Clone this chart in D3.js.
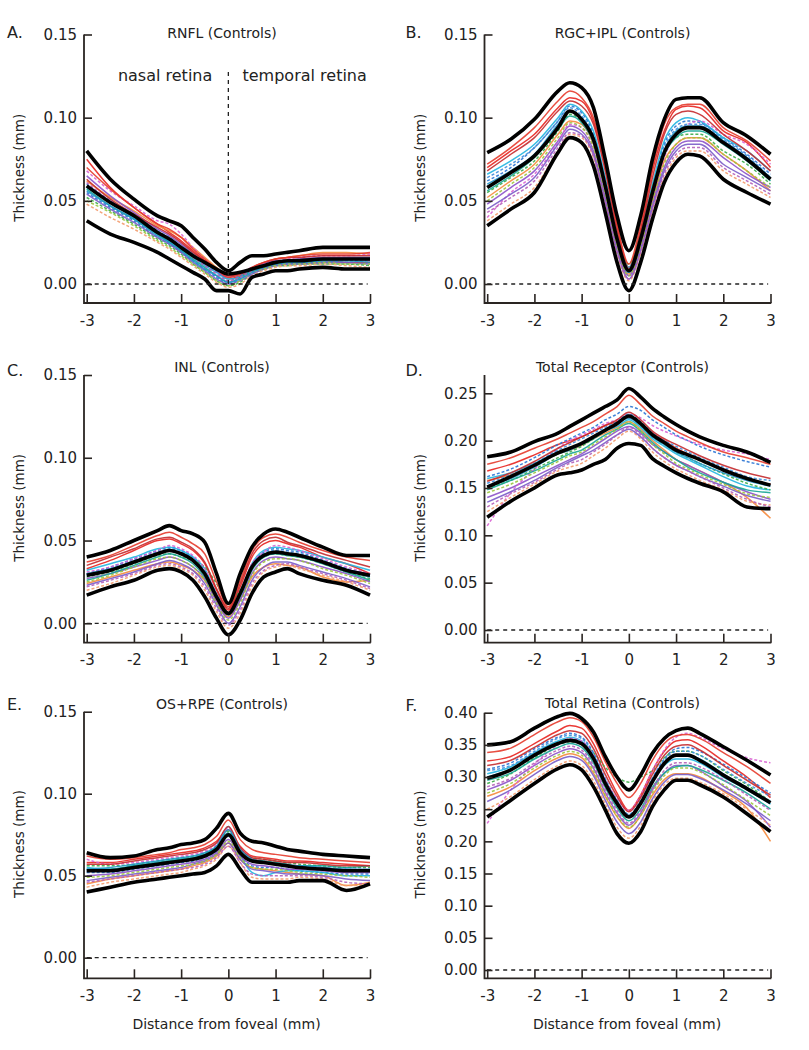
<!DOCTYPE html>
<html>
<head>
<meta charset="utf-8">
<script src="https://cdnjs.cloudflare.com/ajax/libs/d3/7.8.5/d3.min.js"></script>
<style>
  body { margin: 0; background: #fff; }
  svg text { font-family: "DejaVu Sans", Verdana, sans-serif; fill: #222; }
  .axis path { display: none; }
  .axis line { stroke: #2a2522; stroke-width: 1.6; }
  .axis text { font-size: 15px; }
</style>
</head>
<body>
<script>
// distance from fovea (mm), sampling points used for every curve
var xPos = [-3, -2.5, -2, -1.5, -1.25, -1, -0.75, -0.5, -0.25, 0, 0.25, 0.5, 0.75, 1, 1.25, 1.5, 2, 2.5, 3];
var xTicks = [-3, -2, -1, 0, 1, 2, 3];
var xTickLabels = ["-3", "-2", "-1", "0", "1", "2", "3"];

// all thickness values in micrometres (converted to mm when plotted)
// A. RNFL
var rnflMean = [59, 49, 41, 31, 27, 22, 17, 13, 9, 6, 7, 9, 11, 13, 14, 14, 15, 15, 15];
var rnflHigh = [80, 63, 51, 41, 38, 35, 28, 21, 13, 8, 13, 17, 17, 18, 19, 20, 22, 22, 22];
var rnflLow = [38, 30, 25, 19, 15, 11, 7, 3, -4, -4, -6, 4, 6, 8, 8, 9, 10, 9, 9];
var rnflSubj = [
  [75, 58, 46, 36, 31, 26, 20, 14, 8, 3, 5, 8, 10, 12, 13, 13, 14, 13, 13],
  [62, 52, 44, 35, 32, 28, 22, 16, 10, 5, 6, 9, 12, 15, 16, 17, 19, 19, 18],
  [55, 46, 38, 28, 24, 19, 14, 9, 4, 0, 3, 7, 10, 12, 12, 13, 13, 14, 14],
  [58, 49, 40, 30, 26, 21, 16, 11, 7, 3, 4, 8, 11, 13, 14, 15, 15, 16, 16],
  [52, 44, 36, 27, 23, 18, 12, 7, 2, -1, 1, 6, 9, 11, 11, 12, 12, 12, 11],
  [65, 53, 43, 33, 29, 24, 18, 13, 8, 4, 6, 9, 12, 14, 14, 15, 16, 16, 16],
  [68, 56, 47, 38, 36, 30, 22, 15, 9, 5, 7, 10, 12, 14, 15, 16, 17, 17, 18],
  [57, 47, 39, 30, 25, 20, 15, 10, 5, 1, 4, 8, 10, 12, 13, 13, 14, 15, 14],
  [60, 50, 42, 32, 28, 23, 18, 12, 7, 2, 5, 9, 11, 13, 14, 14, 15, 15, 15],
  [63, 51, 42, 34, 30, 25, 19, 14, 9, 5, 6, 10, 13, 15, 16, 16, 17, 17, 17],
  [48, 40, 33, 25, 21, 16, 11, 6, 1, -2, 0, 5, 8, 10, 11, 11, 12, 11, 10],
  [54, 45, 37, 28, 24, 19, 13, 8, 3, 0, 2, 6, 9, 11, 12, 12, 13, 13, 12],
  [70, 57, 46, 36, 33, 28, 21, 15, 9, 4, 6, 10, 13, 15, 16, 17, 18, 18, 19],
  [50, 43, 35, 26, 22, 17, 12, 7, 2, -1, 2, 7, 9, 11, 12, 12, 13, 12, 12],
  [56, 47, 39, 29, 25, 20, 14, 9, 5, 1, 3, 7, 10, 12, 13, 13, 14, 14, 13],
  [61, 50, 41, 31, 27, 22, 16, 11, 6, 2, 4, 8, 11, 13, 14, 14, 15, 15, 14]
];

// B. RGC+IPL
var rgcMean = [58, 67, 77, 94, 104, 99, 87, 59, 27, 8, 27, 55, 79, 90, 94, 94, 85, 75, 63];
var rgcHigh = [79, 87, 99, 116, 121, 118, 106, 75, 41, 20, 41, 75, 99, 111, 112, 112, 97, 89, 78];
var rgcLow = [35, 45, 55, 79, 88, 85, 71, 43, 13, -4, 13, 39, 61, 73, 78, 77, 63, 55, 48];
var rgcSubj = [
  [70, 80, 90, 106, 112, 110, 98, 70, 35, 10, 33, 68, 92, 105, 107, 106, 92, 85, 70],
  [52, 62, 72, 90, 98, 96, 84, 56, 24, 6, 24, 50, 74, 84, 88, 88, 78, 68, 56],
  [62, 70, 82, 98, 107, 103, 90, 62, 28, 8, 28, 58, 84, 95, 98, 97, 88, 78, 66],
  [66, 74, 84, 100, 108, 104, 92, 64, 30, 10, 30, 60, 86, 97, 100, 98, 88, 80, 68],
  [55, 64, 74, 92, 102, 98, 88, 60, 28, 12, 30, 58, 80, 88, 90, 90, 80, 72, 60],
  [48, 58, 68, 86, 95, 92, 80, 52, 22, 5, 22, 48, 70, 82, 86, 86, 76, 66, 58],
  [40, 55, 66, 85, 96, 94, 82, 55, 24, 7, 26, 52, 76, 90, 96, 98, 90, 84, 72],
  [56, 65, 76, 93, 101, 97, 85, 57, 26, 7, 26, 54, 78, 88, 92, 92, 84, 74, 62],
  [64, 72, 82, 98, 106, 101, 89, 61, 28, 9, 28, 57, 82, 93, 96, 96, 87, 77, 64],
  [68, 78, 88, 104, 110, 107, 96, 68, 32, 9, 31, 64, 90, 102, 104, 102, 90, 80, 68],
  [38, 48, 58, 80, 90, 88, 76, 48, 18, 2, 18, 44, 64, 76, 80, 80, 68, 60, 52],
  [45, 54, 64, 84, 93, 90, 78, 50, 20, 3, 20, 46, 68, 80, 84, 84, 72, 64, 56],
  [72, 82, 94, 110, 116, 112, 100, 72, 36, 12, 36, 70, 96, 106, 108, 108, 94, 86, 74],
  [50, 60, 70, 88, 97, 94, 82, 54, 23, 5, 23, 50, 72, 84, 88, 88, 78, 68, 58],
  [60, 68, 78, 96, 104, 100, 88, 60, 27, 7, 27, 56, 80, 92, 95, 95, 86, 76, 64],
  [43, 52, 62, 82, 91, 89, 77, 49, 19, 3, 19, 45, 66, 78, 82, 82, 70, 62, 54]
];

// C. INL
var inlMean = [29, 32, 37, 42, 44, 42, 38, 30, 16, 6, 18, 34, 41, 43, 42, 41, 37, 32, 29];
var inlHigh = [40, 44, 50, 56, 59, 56, 54, 49, 30, 12, 30, 46, 54, 57, 55, 52, 46, 41, 41];
var inlLow = [17, 22, 26, 32, 33, 31, 26, 16, 3, -7, 2, 18, 28, 31, 33, 30, 26, 23, 17];
var inlSubj = [
  [33, 38, 44, 50, 51, 48, 44, 36, 20, 8, 22, 40, 48, 50, 48, 46, 40, 36, 30],
  [24, 28, 32, 36, 37, 35, 32, 26, 14, 4, 14, 28, 34, 36, 35, 34, 28, 25, 26],
  [30, 34, 39, 44, 46, 44, 40, 32, 18, 6, 18, 35, 43, 45, 44, 43, 38, 33, 28],
  [32, 36, 40, 45, 46, 44, 40, 33, 17, 6, 18, 36, 44, 46, 45, 44, 40, 36, 32],
  [28, 31, 36, 41, 42, 40, 38, 34, 24, 12, 20, 33, 40, 42, 41, 40, 36, 31, 27],
  [27, 30, 34, 38, 40, 38, 34, 27, 13, 3, 14, 30, 38, 40, 39, 38, 34, 30, 25],
  [31, 34, 39, 44, 47, 45, 41, 33, 17, 6, 19, 36, 43, 47, 46, 44, 39, 34, 30],
  [26, 30, 35, 40, 42, 40, 36, 28, 15, 5, 16, 32, 40, 42, 41, 40, 36, 31, 26],
  [29, 33, 38, 43, 45, 43, 39, 31, 16, 5, 17, 34, 42, 44, 43, 42, 38, 33, 29],
  [35, 40, 45, 51, 52, 49, 45, 37, 21, 9, 24, 42, 50, 52, 49, 47, 42, 38, 34],
  [20, 24, 29, 34, 35, 33, 29, 20, 7, -3, 6, 22, 31, 34, 35, 33, 29, 25, 20],
  [23, 27, 31, 36, 38, 36, 32, 24, 11, 0, 10, 26, 34, 37, 37, 35, 31, 27, 22],
  [37, 41, 47, 53, 55, 52, 48, 42, 25, 10, 26, 44, 52, 54, 52, 49, 44, 40, 38],
  [25, 29, 34, 39, 40, 38, 34, 26, 12, 2, 12, 29, 37, 39, 39, 38, 33, 29, 24],
  [30, 33, 37, 42, 44, 42, 38, 31, 17, 6, 18, 34, 41, 43, 42, 41, 37, 32, 28],
  [22, 26, 30, 35, 36, 34, 30, 22, 9, -1, 8, 24, 32, 35, 36, 34, 30, 26, 21]
];

// D. Total Receptor
var recMean = [151, 162, 174, 187, 192, 197, 204, 211, 218, 226, 218, 206, 198, 190, 185, 180, 169, 160, 153];
var recHigh = [183, 188, 199, 208, 215, 222, 229, 236, 243, 255, 246, 234, 225, 217, 210, 204, 195, 188, 177];
var recLow = [119, 136, 150, 164, 166, 169, 175, 180, 192, 197, 195, 181, 173, 166, 160, 155, 146, 130, 128];
var recSubj = [
  [168, 175, 185, 196, 200, 204, 210, 216, 220, 224, 218, 208, 200, 192, 186, 180, 170, 160, 154],
  [158, 164, 175, 186, 190, 195, 202, 208, 214, 220, 212, 200, 190, 180, 174, 168, 156, 140, 118],
  [162, 170, 182, 196, 202, 208, 214, 222, 228, 236, 232, 222, 214, 206, 200, 194, 185, 178, 172],
  [160, 166, 176, 188, 192, 196, 202, 210, 215, 222, 214, 202, 194, 186, 180, 174, 162, 152, 148],
  [150, 158, 170, 182, 188, 194, 202, 210, 218, 226, 216, 204, 196, 188, 182, 176, 165, 155, 148],
  [140, 150, 162, 174, 180, 186, 194, 202, 210, 215, 208, 196, 188, 180, 174, 168, 156, 146, 138],
  [110, 145, 170, 192, 200, 206, 212, 218, 222, 228, 224, 216, 210, 205, 200, 196, 190, 186, 180],
  [148, 158, 168, 180, 186, 190, 198, 206, 212, 218, 210, 198, 188, 180, 172, 166, 156, 148, 145],
  [155, 164, 176, 190, 196, 202, 208, 214, 220, 228, 220, 208, 200, 194, 188, 182, 172, 162, 158],
  [157, 166, 178, 192, 198, 204, 210, 216, 222, 230, 222, 210, 202, 196, 190, 184, 174, 166, 160],
  [125, 140, 154, 168, 172, 176, 184, 192, 202, 210, 202, 188, 178, 170, 164, 158, 148, 136, 132],
  [135, 146, 158, 172, 178, 184, 190, 198, 206, 212, 204, 192, 182, 174, 168, 162, 152, 142, 136],
  [175, 182, 192, 202, 208, 214, 220, 228, 236, 248, 238, 226, 218, 210, 204, 198, 188, 182, 175],
  [145, 154, 166, 178, 184, 188, 196, 204, 212, 220, 210, 196, 186, 176, 170, 164, 154, 144, 140],
  [152, 160, 172, 186, 190, 196, 204, 212, 218, 224, 216, 204, 196, 188, 182, 176, 166, 158, 152],
  [130, 144, 156, 170, 176, 180, 188, 196, 206, 214, 206, 192, 182, 174, 168, 162, 150, 138, 130]
];

// E. OS+RPE
var osMean = [53, 53, 55, 57, 58, 59, 60, 62, 66, 75, 64, 59, 58, 57, 56, 55, 54, 53, 53];
var osHigh = [64, 61, 62, 66, 67, 69, 70, 72, 79, 88, 76, 71, 70, 68, 66, 65, 63, 62, 61];
var osLow = [40, 43, 46, 48, 49, 50, 51, 52, 56, 63, 54, 46, 46, 46, 46, 47, 47, 41, 45];
var osSubj = [
  [58, 58, 60, 62, 63, 64, 65, 67, 71, 78, 68, 62, 61, 60, 59, 59, 58, 57, 56],
  [45, 48, 50, 52, 53, 54, 56, 58, 62, 70, 60, 55, 54, 53, 52, 51, 50, 44, 46],
  [52, 52, 54, 56, 57, 58, 59, 61, 65, 74, 62, 56, 55, 55, 54, 53, 52, 51, 51],
  [55, 54, 56, 58, 59, 60, 61, 63, 68, 80, 63, 52, 50, 52, 53, 53, 52, 50, 50],
  [56, 56, 57, 59, 60, 61, 62, 64, 68, 77, 66, 61, 60, 59, 58, 57, 56, 55, 55],
  [50, 51, 53, 55, 56, 57, 58, 60, 64, 72, 62, 57, 56, 55, 54, 54, 53, 52, 52],
  [60, 57, 58, 60, 61, 62, 63, 65, 69, 79, 67, 61, 59, 58, 57, 56, 55, 54, 54],
  [54, 54, 56, 58, 59, 60, 61, 63, 67, 76, 65, 60, 59, 58, 57, 56, 56, 55, 56],
  [53, 53, 55, 57, 58, 59, 60, 62, 66, 76, 64, 59, 58, 57, 56, 55, 54, 54, 53],
  [57, 57, 59, 61, 62, 63, 64, 66, 70, 80, 67, 61, 60, 59, 58, 58, 57, 56, 56],
  [43, 46, 48, 50, 51, 52, 54, 56, 60, 68, 58, 49, 48, 48, 48, 49, 48, 44, 44],
  [47, 49, 51, 53, 54, 55, 57, 59, 63, 70, 60, 54, 53, 52, 51, 51, 50, 48, 47],
  [62, 60, 61, 63, 64, 66, 67, 69, 74, 84, 72, 66, 64, 63, 62, 61, 60, 59, 58],
  [49, 50, 52, 54, 55, 56, 57, 59, 63, 71, 61, 55, 54, 54, 53, 52, 51, 50, 49],
  [54, 55, 57, 59, 60, 61, 62, 64, 68, 78, 66, 60, 58, 57, 56, 56, 55, 54, 54],
  [46, 48, 50, 52, 53, 54, 55, 57, 61, 68, 58, 51, 50, 50, 50, 50, 49, 46, 45]
];

// F. Total Retina
var totMean = [298, 311, 334, 352, 357, 352, 329, 290, 259, 238, 259, 293, 321, 334, 334, 326, 303, 282, 260];
var totHigh = [350, 355, 376, 394, 399, 391, 370, 332, 300, 280, 303, 337, 360, 372, 376, 368, 347, 326, 303];
var totLow = [238, 264, 290, 313, 319, 311, 285, 249, 212, 197, 215, 254, 280, 295, 295, 288, 269, 243, 215];
var totSubj = [
  [325, 332, 352, 372, 380, 376, 352, 312, 275, 248, 272, 310, 340, 356, 358, 350, 325, 300, 268],
  [270, 285, 310, 330, 336, 330, 306, 270, 238, 220, 240, 272, 296, 305, 305, 300, 278, 252, 200],
  [312, 322, 344, 362, 368, 362, 338, 298, 262, 240, 262, 298, 328, 344, 346, 340, 320, 298, 275],
  [305, 316, 338, 356, 362, 356, 334, 294, 262, 240, 258, 292, 318, 328, 328, 322, 300, 280, 258],
  [290, 305, 330, 350, 355, 352, 338, 315, 300, 292, 300, 310, 330, 340, 340, 334, 310, 288, 262],
  [280, 295, 318, 338, 344, 338, 314, 276, 244, 225, 244, 280, 306, 318, 318, 310, 286, 262, 222],
  [228, 280, 320, 350, 360, 356, 334, 296, 266, 248, 272, 310, 342, 362, 368, 362, 344, 330, 322],
  [295, 306, 328, 346, 352, 346, 322, 284, 252, 232, 250, 284, 306, 316, 318, 312, 295, 275, 250],
  [310, 318, 340, 360, 365, 360, 336, 296, 264, 242, 264, 298, 326, 340, 340, 334, 312, 290, 270],
  [318, 326, 346, 366, 372, 368, 344, 304, 270, 246, 268, 304, 334, 348, 350, 342, 318, 295, 272],
  [250, 270, 296, 318, 325, 318, 294, 258, 222, 205, 224, 262, 288, 298, 298, 292, 274, 250, 225],
  [262, 280, 304, 326, 332, 326, 302, 264, 230, 212, 230, 266, 292, 304, 304, 298, 280, 258, 232],
  [338, 345, 366, 386, 392, 386, 362, 324, 290, 268, 290, 326, 352, 364, 366, 360, 338, 316, 290],
  [275, 290, 314, 334, 340, 334, 310, 272, 240, 222, 240, 276, 302, 314, 314, 308, 288, 264, 240],
  [300, 312, 334, 352, 358, 352, 330, 292, 260, 238, 260, 294, 322, 334, 334, 328, 305, 284, 262],
  [285, 298, 322, 342, 348, 342, 318, 280, 248, 228, 248, 282, 310, 322, 322, 316, 296, 272, 248]
];

var subjColors = ["#e8231f", "#f5883a", "#2a74d4", "#22b5e0", "#3bad48", "#8b52c9", "#d861d2", "#17a595",
                  "#3f8fda", "#c42a2e", "#f39a6b", "#7a5cc8", "#e53b2c", "#9bc53d", "#2196c9", "#b55fb8"];
var subjDashed = [false, false, true, false, true, false, true, false,
                  true, false, true, false, false, true, false, true];

var panels = [
  { letter: "A.", title: "RNFL (Controls)", mean: rnflMean, hi: rnflHigh, lo: rnflLow, subj: rnflSubj,
    col: 0, yMax: 0.15, top: 34.5, zero: 284, bottom: 303, axisTop: 34.5, titleY: 38, letterY: 38 },
  { letter: "B.", title: "RGC+IPL (Controls)", mean: rgcMean, hi: rgcHigh, lo: rgcLow, subj: rgcSubj,
    col: 1, yMax: 0.15, top: 34.5, zero: 284, bottom: 303, axisTop: 34.5, titleY: 38, letterY: 38 },
  { letter: "C.", title: "INL (Controls)", mean: inlMean, hi: inlHigh, lo: inlLow, subj: inlSubj,
    col: 0, yMax: 0.15, top: 375, zero: 623.3, bottom: 642.7, axisTop: 375, titleY: 372, letterY: 376 },
  { letter: "D.", title: "Total Receptor (Controls)", mean: recMean, hi: recHigh, lo: recLow, subj: recSubj,
    col: 1, yMax: 0.25, top: 393.3, zero: 630, bottom: 642.7, axisTop: 375, titleY: 372, letterY: 376 },
  { letter: "E.", title: "OS+RPE (Controls)", mean: osMean, hi: osHigh, lo: osLow, subj: osSubj,
    col: 0, yMax: 0.15, top: 711.7, zero: 957.7, bottom: 978.3, axisTop: 711.7, titleY: 709, letterY: 710, xLabel: true },
  { letter: "F.", title: "Total Retina (Controls)", mean: totMean, hi: totHigh, lo: totLow, subj: totSubj,
    col: 1, yMax: 0.40, top: 712.7, zero: 970, bottom: 978.3, axisTop: 712.7, titleY: 708, letterY: 711, xLabel: true }
];

var svg = d3.select("body").append("svg")
    .attr("width", 809)
    .attr("height", 1050);

panels.forEach(function (p, pi) {
    var dx = p.col * 400.5;
    var axisX = 84 + dx;

    var x = d3.scaleLinear().domain([-3, 3]).range([86.7 + dx, 370 + dx]);
    var y = d3.scaleLinear().domain([0, p.yMax]).range([p.zero, p.top]);

    var line = d3.line()
        .x(function (d, i) { return x(xPos[i]); })
        .y(function (d) { return y(d / 1000); })
        .curve(d3.curveMonotoneX);

    var g = svg.append("g");

    // individual subjects
    g.selectAll(".subj")
        .data(p.subj)
        .enter().append("path")
        .attr("class", "subj")
        .attr("d", line)
        .attr("fill", "none")
        .attr("stroke", function (d, i) { return subjColors[i]; })
        .attr("stroke-width", 1.5)
        .attr("stroke-dasharray", function (d, i) { return subjDashed[i] ? "3,2" : null; })
        .attr("opacity", 0.9);

    // mean and +/- limits
    g.selectAll(".stat")
        .data([p.hi, p.lo, p.mean])
        .enter().append("path")
        .attr("class", "stat")
        .attr("d", line)
        .attr("fill", "none")
        .attr("stroke", "#000")
        .attr("stroke-width", 3.6)
        .attr("stroke-linejoin", "round");

    // zero line
    g.append("line")
        .attr("x1", x(-3)).attr("x2", x(2.95))
        .attr("y1", y(0)).attr("y2", y(0))
        .attr("stroke", "#222")
        .attr("stroke-width", 1.3)
        .attr("stroke-dasharray", "4,4");

    // axes
    var yTicks = d3.range(0, p.yMax + 0.001, 0.05);
    g.append("g")
        .attr("class", "axis")
        .attr("transform", "translate(" + axisX + ",0)")
        .call(d3.axisLeft(y).tickValues(yTicks).tickFormat(d3.format(".2f")).tickSize(-8).tickPadding(7));

    g.append("g")
        .attr("class", "axis")
        .attr("transform", "translate(0," + p.bottom + ")")
        .call(d3.axisBottom(x).tickValues(xTicks).tickFormat(function (d, i) { return xTickLabels[i]; })
            .tickSize(-9).tickPadding(12));

    g.append("path")
        .attr("d", "M" + axisX + "," + p.axisTop + "V" + p.bottom + "H" + (x(3) + 0.8))
        .attr("fill", "none")
        .attr("stroke", "#2a2522")
        .attr("stroke-width", 1.8);

    // labels
    g.append("text")
        .attr("x", 7 + dx - (p.col ? 2 : 0))
        .attr("y", p.letterY)
        .attr("font-size", 16)
        .text(p.letter);

    g.append("text")
        .attr("x", 222 + dx)
        .attr("y", p.titleY)
        .attr("text-anchor", "middle")
        .attr("font-size", 14)
        .text(p.title);

    g.append("text")
        .attr("transform", "translate(" + (24 + dx) + "," + ((p.axisTop + p.bottom) / 2 - 1) + ") rotate(-90)")
        .attr("text-anchor", "middle")
        .attr("font-size", 13.5)
        .text("Thickness (mm)");

    if (p.xLabel) {
        g.append("text")
            .attr("x", 226.5 + dx)
            .attr("y", 1029)
            .attr("text-anchor", "middle")
            .attr("font-size", 14)
            .text("Distance from foveal (mm)");
    }

    if (pi === 0) {
        g.append("line")
            .attr("x1", x(0)).attr("x2", x(0))
            .attr("y1", y(0)).attr("y2", y(0.128))
            .attr("stroke", "#222")
            .attr("stroke-width", 1.3)
            .attr("stroke-dasharray", "4,4");
        g.append("text")
            .attr("x", x(-0.34)).attr("y", 81)
            .attr("text-anchor", "end")
            .attr("font-size", 16)
            .text("nasal retina");
        g.append("text")
            .attr("x", x(0.3)).attr("y", 81)
            .attr("font-size", 16)
            .text("temporal retina");
    }
});
</script>
</body>
</html>
